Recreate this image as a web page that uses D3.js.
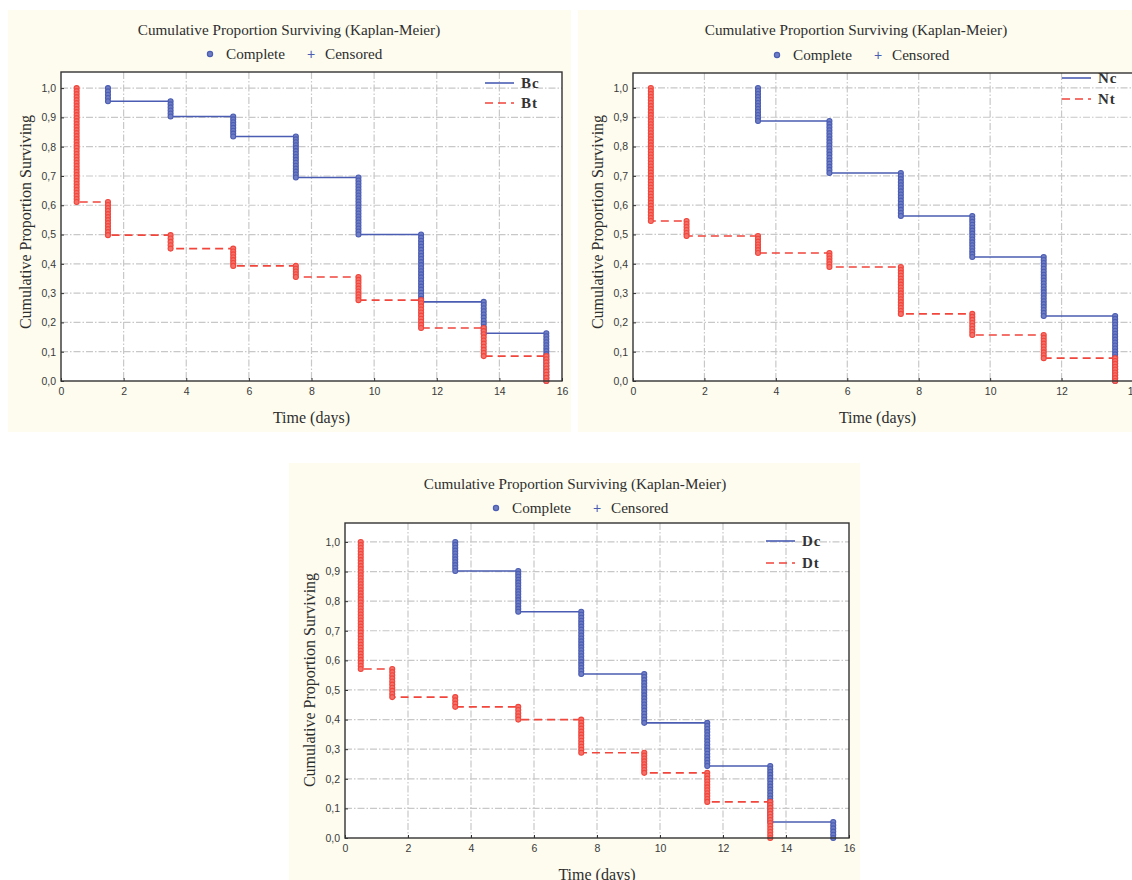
<!DOCTYPE html>
<html><head><meta charset="utf-8">
<script src="https://cdn.jsdelivr.net/npm/d3@7"></script>
<style>
html,body{margin:0;padding:0;background:#fff;}
svg{display:block;}
</style></head>
<body>
<svg id="chart" width="1132" height="880"></svg>
<script>
// ---------- DATA ----------
const chartTitle = "Cumulative Proportion Surviving (Kaplan-Meier)";
const legendLabels = ["Complete", "Censored"];
const xTitle = "Time (days)";
const yTitle = "Cumulative Proportion Surviving";
const xTicks16 = [0, 2, 4, 6, 8, 10, 12, 14, 16];
const xTicks14 = [0, 2, 4, 6, 8, 10, 12, 14];
const yTicks = [0, 0.1, 0.2, 0.3, 0.4, 0.5, 0.6, 0.7, 0.8, 0.9, 1.0];

// Panel B
const seriesNamesB = ["Bc", "Bt"];
const timesBc = [1.5, 3.5, 5.5, 7.5, 9.5, 11.5, 13.5, 15.5];
const survBc  = [0.955, 0.903, 0.835, 0.695, 0.50, 0.27, 0.163, 0.0];
const timesBt = [0.5, 1.5, 3.5, 5.5, 7.5, 9.5, 11.5, 13.5, 15.5];
const survBt  = [0.611, 0.498, 0.452, 0.393, 0.355, 0.276, 0.181, 0.085, 0.0];

// Panel N
const seriesNamesN = ["Nc", "Nt"];
const timesNc = [3.5, 5.5, 7.5, 9.5, 11.5, 13.5];
const survNc  = [0.887, 0.71, 0.563, 0.423, 0.222, 0.0];
const timesNt = [0.5, 1.5, 3.5, 5.5, 7.5, 9.5, 11.5, 13.5];
const survNt  = [0.546, 0.495, 0.437, 0.389, 0.229, 0.157, 0.078, 0.0];

// Panel D
const seriesNamesD = ["Dc", "Dt"];
const timesDc = [3.5, 5.5, 7.5, 9.5, 11.5, 13.5, 15.5];
const survDc  = [0.902, 0.764, 0.554, 0.389, 0.243, 0.054, 0.0];
const timesDt = [0.5, 1.5, 3.5, 5.5, 7.5, 9.5, 11.5, 13.5];
const survDt  = [0.571, 0.476, 0.443, 0.40, 0.288, 0.22, 0.122, 0.0];

// ---------- STYLE / LAYOUT ----------
const BLUE = "#4b5db3", BLUE_FILL = "#6f7dc4";
const RED = "#f0463c", RED_FILL = "#f4716a";
const BG = "#fdfcef";
const SERIF = "'Liberation Serif','Times New Roman',serif";
const SANS = "'Liberation Sans',Arial,sans-serif";

const panels = [
  { bg:[8,10,563,422], plot:{l:61,r:562,t:72,b:381}, xMax:16, yMax:1.055, xTicks:xTicks16,
    titleX:289, titleY:30, legY:54, lgX:-77, lgY:[83,103], ytX:25, ytY:222, xtY:417,
    names:seriesNamesB, c:[timesBc,survBc], t:[timesBt,survBt] },
  { bg:[578,10,560,422], plot:{l:633,r:1133,t:73,b:381}, xMax:14, yMax:1.051, xTicks:xTicks14,
    titleX:856, titleY:30, legY:55, lgX:-71, lgY:[78,99], ytX:597, ytY:222, xtY:417,
    names:seriesNamesN, c:[timesNc,survNc], t:[timesNt,survNt] },
  { bg:[289,463,571,420], plot:{l:345,r:849,t:523,b:838}, xMax:16, yMax:1.064, xTicks:xTicks16,
    titleX:575, titleY:484, legY:508, lgX:-83, lgY:[541,563], ytX:309, ytY:680, xtY:874,
    names:seriesNamesD, c:[timesDc,survDc], t:[timesDt,survDt] }
];

const svg = d3.select("#chart");
const fmt = v => d3.format(".1f")(v).replace(".", ",");

function drawPanel(p) {
  const g = svg.append("g");
  g.append("rect").attr("x", p.bg[0]).attr("y", p.bg[1]).attr("width", p.bg[2]).attr("height", p.bg[3]).attr("fill", BG);

  const x = d3.scaleLinear().domain([0, p.xMax]).range([p.plot.l, p.plot.r]);
  const y = d3.scaleLinear().domain([0, p.yMax]).range([p.plot.b, p.plot.t]);

  g.append("rect").attr("x", p.plot.l).attr("y", p.plot.t)
    .attr("width", p.plot.r - p.plot.l).attr("height", p.plot.b - p.plot.t).attr("fill", "#fff");

  // grid
  const grid = g.append("g").attr("stroke", "#c8c8c8").attr("stroke-width", 1.2).attr("stroke-dasharray", "7,2,1.5,2");
  p.xTicks.forEach(v => { if (v > 0 && v < p.xMax) grid.append("line").attr("x1", x(v)).attr("x2", x(v)).attr("y1", p.plot.t).attr("y2", p.plot.b); });
  yTicks.forEach(v => { if (v > 0) grid.append("line").attr("y1", y(v)).attr("y2", y(v)).attr("x1", p.plot.l).attr("x2", p.plot.r); });

  // axes
  const xa = d3.axisBottom(x).tickValues(p.xTicks).tickSize(-3).tickPadding(7).tickFormat(d3.format("d"));
  const ya = d3.axisLeft(y).tickValues(yTicks).tickSize(-3).tickPadding(5).tickFormat(fmt);
  const gx = g.append("g").attr("transform", `translate(0,${p.plot.b})`).call(xa);
  const gy = g.append("g").attr("transform", `translate(${p.plot.l},0)`).call(ya);
  [gx, gy].forEach(a => {
    a.select(".domain").remove();
    a.selectAll("line").attr("stroke", "#333");
    a.selectAll("text").attr("font-family", SANS).attr("font-size", 10.5).attr("fill", "#3a3a3a");
  });

  // series
  const clip = "clip" + p.plot.l;
  svg.append("clipPath").attr("id", clip).append("rect")
    .attr("x", p.plot.l).attr("y", p.plot.t - 4).attr("width", p.plot.r - p.plot.l + 4).attr("height", p.plot.b - p.plot.t + 8);
  const plotG = g.append("g").attr("clip-path", `url(#${clip})`);

  function drawSeries(times, surv, color, fill, dash) {
    const pts = [[times[0], 1.0]];
    times.forEach((t, i) => {
      pts.push([t, surv[i]]);
      if (i < times.length - 1) pts.push([times[i + 1], surv[i]]);
    });
    plotG.append("path")
      .attr("d", d3.line().x(d => x(d[0])).y(d => y(d[1]))(pts))
      .attr("fill", "none").attr("stroke", color).attr("stroke-width", 1.6)
      .attr("stroke-dasharray", dash || null);
    times.forEach((t, i) => {
      const top = i === 0 ? 1.0 : surv[i - 1];
      const y0 = y(top), y1 = y(surv[i]);
      const n = Math.max(1, Math.round((y1 - y0) / 3));
      const ys = d3.range(n + 1).map(k => y0 + (y1 - y0) * k / n);
      plotG.append("g").selectAll("circle").data(ys).join("circle")
        .attr("cx", x(t)).attr("cy", d => d).attr("r", 2.5)
        .attr("fill", fill).attr("stroke", color).attr("stroke-width", 1.1);
    });
  }
  drawSeries(p.c[0], p.c[1], BLUE, BLUE_FILL, null);
  drawSeries(p.t[0], p.t[1], RED, RED_FILL, "8,5");

  g.append("rect").attr("x", p.plot.l).attr("y", p.plot.t)
    .attr("width", p.plot.r - p.plot.l).attr("height", p.plot.b - p.plot.t)
    .attr("fill", "none").attr("stroke", "#333").attr("stroke-width", 1.4);

  // in-plot legend
  const lx = p.plot.r + p.lgX;
  [[BLUE, null], [RED, "8,5"]].forEach((s, i) => {
    g.append("line").attr("x1", lx).attr("x2", lx + 29).attr("y1", p.lgY[i]).attr("y2", p.lgY[i])
      .attr("stroke", s[0]).attr("stroke-width", 1.6).attr("stroke-dasharray", s[1]);
    g.append("text").attr("x", lx + 36).attr("y", p.lgY[i]).attr("dy", "0.35em")
      .attr("font-family", SERIF).attr("font-weight", "bold").attr("font-size", 15).attr("fill", "#333")
      .attr("letter-spacing", 1)
      .text(p.names[i]);
  });

  // title
  g.append("text").attr("x", p.titleX).attr("y", p.titleY).attr("dy", "0.35em").attr("text-anchor", "middle")
    .attr("font-family", SERIF).attr("font-size", 15.2).attr("fill", "#2e2e2e").text(chartTitle);

  // top legend
  const cx = p.titleX;
  g.append("circle").attr("cx", cx - 79).attr("cy", p.legY).attr("r", 2.6).attr("fill", BLUE_FILL).attr("stroke", BLUE).attr("stroke-width", 1.2);
  g.append("text").attr("x", cx - 63).attr("y", p.legY).attr("dy", "0.35em")
    .attr("font-family", SERIF).attr("font-size", 15.2).attr("fill", "#2e2e2e").text(legendLabels[0]);
  g.append("text").attr("x", cx + 22).attr("y", p.legY).attr("dy", "0.35em").attr("text-anchor", "middle")
    .attr("font-family", SANS).attr("font-size", 14).attr("fill", BLUE).text("+");
  g.append("text").attr("x", cx + 36).attr("y", p.legY).attr("dy", "0.35em")
    .attr("font-family", SERIF).attr("font-size", 15.2).attr("fill", "#2e2e2e").text(legendLabels[1]);

  // axis titles
  g.append("text").attr("x", (p.plot.l + Math.min(p.plot.r, 1106)) / 2 + (p.xMax === 14 ? 8 : 0)).attr("y", p.xtY).attr("dy", "0.35em")
    .attr("text-anchor", "middle").attr("font-family", SERIF).attr("font-size", 16).attr("fill", "#2e2e2e").text(xTitle);
  g.append("text").attr("transform", `translate(${p.ytX},${p.ytY}) rotate(-90)`).attr("dy", "0.35em")
    .attr("text-anchor", "middle").attr("font-family", SERIF).attr("font-size", 16).attr("fill", "#2e2e2e").text(yTitle);
}

panels.forEach(drawPanel);
</script>
</body></html>
